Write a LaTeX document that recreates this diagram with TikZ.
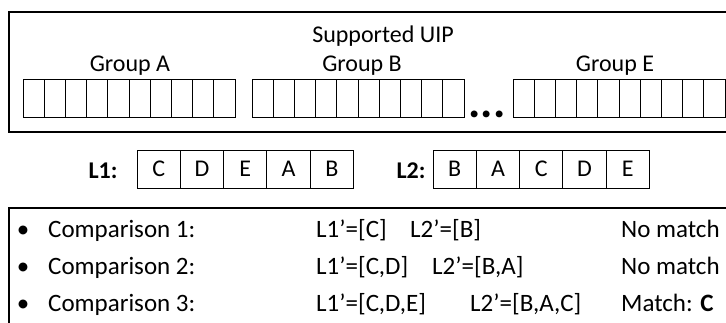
\documentclass[tikz,border=0pt]{standalone}
\usepackage{fontspec}
\setmainfont{Carlito}
\begin{document}
\begin{tikzpicture}[x=1pt,y=-1pt,
    cell/.style={draw,line width=1pt,minimum width=21.2pt,minimum height=38pt,inner sep=0pt},
    lcell/.style={draw,line width=1pt,minimum width=43.3pt,minimum height=38pt,inner sep=0pt,font=\fontsize{24}{26}\selectfont},
    txt/.style={inner sep=0pt,anchor=base,font=\fontsize{24}{26}\selectfont},
    row/.style={inner sep=0pt,anchor=base west,font=\fontsize{25}{28}\selectfont}]
    \useasboundingbox (0,0) rectangle (726,322);
    \clip (0,0) rectangle (726,322);
    % supported UIP box
    \draw[line width=2.5pt] (9,12) rectangle (745,132);
    \node[txt] (uip) at (383,42) {Supported UIP};
    \node[txt] (grpa) at (130,71) {Group A};
    \node[txt] (grpb) at (362,71) {Group B};
    \node[txt] (grpe) at (615,71) {Group E};
    \foreach \g/\x in {a/23,b/252,e/513}
      \foreach \i in {1,...,10}
        \node[cell] (\g\i) at ({\x+(\i-0.5)*21.2},98) {};
    \node[inner sep=0pt,anchor=base,font=\fontsize{46}{46}\bfseries] (dots) at (487,117) {...};
    % the two lists
    \node[txt,anchor=center,font=\fontsize{24}{26}\bfseries] (l1) at (103,171) {L1:};
    \node[txt,anchor=center,font=\fontsize{24}{26}\bfseries] (l2) at (411,171) {L2:};
    \foreach \t [count=\i] in {C,D,E,A,B}
      \node[lcell] (la\i) at ({137+(\i-0.5)*43.3},169) {\t};
    \foreach \t [count=\i] in {B,A,C,D,E}
      \node[lcell] (lb\i) at ({433+(\i-0.5)*43.3},169) {\t};
    % comparisons
    \draw[line width=2.5pt] (9,208) rectangle (745,345);
    \foreach \y [count=\n] in {237,274,311} {
      \node[row,anchor=base] (bul\n) at (23,\y) {•};
      \node[row] (cmp\n) at (48,\y) {Comparison \n:};
    }
    \node[row] (pa1) at (316,237) {L1’=[C]};
    \node[row] (pb1) at (410,237) {L2’=[B]};
    \node[row] (res1) at (621,237) {No match};
    \node[row] (pa2) at (316,274) {L1’=[C,D]};
    \node[row] (pb2) at (432,274) {L2’=[B,A]};
    \node[row] (res2) at (621,274) {No match};
    \node[row] (pa3) at (316,311) {L1’=[C,D,E]};
    \node[row] (pb3) at (470,311) {L2’=[B,A,C]};
    \node[row] (res3) at (621,311) {Match: \textbf{C}};
\end{tikzpicture}
\end{document}
